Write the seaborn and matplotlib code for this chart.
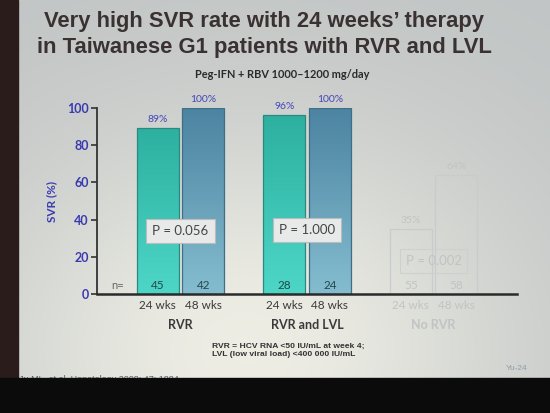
import numpy as np
import pandas as pd
import matplotlib
matplotlib.use('Agg')
import matplotlib.pyplot as plt
import seaborn as sns
from matplotlib.patches import Rectangle

# Datos del gráfico
groups = ['RVR', 'RVR and LVL', 'No RVR']
durations = ['24 wks', '48 wks']
svr_24 = [89, 96, 35]
svr_48 = [100, 100, 64]
n_24 = [45, 28, 55]
n_48 = [42, 24, 58]
p_labels = ['P = 0.056', 'P = 1.000', 'P = 0.002']

sns.set_theme(style='white')
plt.rcParams['font.family'] = ['Lato', 'DejaVu Sans']

df = pd.DataFrame({
    'group': groups * 2,
    'duration': [durations[0]] * 3 + [durations[1]] * 3,
    'svr': svr_24 + svr_48,
})
n_vals = {durations[0]: n_24, durations[1]: n_48}

fig = plt.figure(figsize=(5.5, 4.13), dpi=100)

# fondo de la diapositiva (foto con viñeta)
bg = fig.add_axes([0, 0, 1, 1], zorder=-2)
yy, xx = np.mgrid[0:1:200j, 0:1:260j]
w = np.exp(-((xx - 0.45) / 0.5) ** 2 - ((yy - 0.85) / 0.55) ** 2)
bright = 0.77 + 0.16 * w
img = np.dstack([bright - 0.015 * (1 - w), bright, bright - 0.035 * w])
bg.imshow(np.clip(img, 0, 1), extent=[0, 1, 0, 1], aspect='auto', origin='upper')
bg.add_patch(Rectangle((0, 0), 0.033, 1, color='#2a1c1a'))
bg.set_xlim(0, 1)
bg.set_ylim(0, 1)
bg.axis('off')

# cita (cortada por el borde negro)
fig.text(0.035, 1 - 379 / 413, 'Ju ML, et al. Hepatology 2008; 47: 1884',
         fontsize=6.5, color='#556066', family=['Liberation Sans'], va='center', zorder=1)
fig.patches.append(Rectangle((0, 0), 1, 1 - 378 / 413, transform=fig.transFigure,
                             color='#0b0b0b', zorder=2))
fig.text(0.92, 1 - 369 / 413, 'Yu-24', fontsize=6, color='#8fa0a6',
         family=['Liberation Sans'], va='center', zorder=1)

# títulos
title_kw = dict(ha='center', va='center', fontsize=15.8, fontweight='bold',
                color='#3a3232', family=['Liberation Sans'])
fig.text(0.48, 1 - 21 / 413, "Very high SVR rate with 24 weeks’ therapy", **title_kw)
fig.text(0.48, 1 - 47 / 413, 'in Taiwanese G1 patients with RVR and LVL', **title_kw)
fig.text(0.513, 1 - 75 / 413, 'Peg-IFN + RBV 1000–1200 mg/day', ha='center', va='center',
         fontsize=7.9, fontweight='bold', color='#2a2a2a')

ax = fig.add_axes([97 / 550, 1 - 294 / 413, 420 / 550, 186 / 413], zorder=3)
ax.patch.set_alpha(0)

teal, blue = '#3cc2b2', '#5f99b6'
sns.barplot(data=df, x='group', y='svr', hue='duration', order=groups,
            hue_order=durations, palette=[teal, blue], width=0.72, gap=0.08,
            legend=False, ax=ax)

grad_cols = {0: ('#2db0a0', '#4dd6c6', '#2b8a80'), 1: ('#4c84a2', '#84bccf', '#3f6f88')}
faded = '#c0c4c4'
tick_pos, tick_lab, tick_col = [], [], []
for hi, cont in enumerate(ax.containers):
    top_c, bot_c, edge_c = grad_cols[hi]
    for gi, bar in enumerate(cont):
        x0, wd, h = bar.get_x(), bar.get_width(), bar.get_height()
        xc = x0 + wd / 2
        is_faded = groups[gi] == 'No RVR'
        if is_faded:
            bar.set_facecolor('none')
            bar.set_edgecolor('#c8cccc')
            bar.set_linewidth(0.9)
            txt_c = n_c = pct_c = faded
        else:
            t = np.array(matplotlib.colors.to_rgb(top_c))
            b = np.array(matplotlib.colors.to_rgb(bot_c))
            s = np.linspace(0, 1, 64)[:, None]
            grad = (t * (1 - s) + b * s)[:, None, :]
            im = ax.imshow(grad, extent=[x0, x0 + wd, 0, h], aspect='auto',
                           origin='upper', zorder=1.5)
            im.set_clip_path(bar)
            bar.set_facecolor('none')
            bar.set_edgecolor(edge_c)
            bar.set_linewidth(0.9)
            bar.set_zorder(2)
            txt_c, n_c, pct_c = '#3a3a3a', '#24474c', '#4646b8'
        ax.text(xc, h + 2.2, f'{h:.0f}%', ha='center', va='bottom', fontsize=7.5,
                color=pct_c, clip_on=False)
        ax.text(xc, 4.8, str(n_vals[durations[hi]][gi]), ha='center', va='center',
                fontsize=8.5, color=n_c, zorder=3)
        tick_pos.append(xc)
        tick_lab.append(durations[hi])
        tick_col.append(txt_c)

ax.text(-0.5, 4.8, 'n=', ha='center', va='center', fontsize=8, color='#666666')

# cajas de P
p_pos = [(0.0, 34), (1.0, 34.4), (2.0, 17.7)]
for (px, py), lab, gi in zip(p_pos, p_labels, range(3)):
    fade = groups[gi] == 'No RVR'
    ax.text(px, py, lab, ha='center', va='center', fontsize=9.5,
            color=faded if fade else '#444444', zorder=4,
            bbox=dict(boxstyle='square,pad=0.45',
                      facecolor='none' if fade else '#e8eae9',
                      edgecolor='#cdd0d0' if fade else '#b9bdbd', linewidth=0.8))

# etiquetas de grupo
for gi, g in enumerate(groups):
    ax.text(gi, -16.7, g, ha='center', va='center', fontsize=9, fontweight='bold',
            color=faded if g == 'No RVR' else '#3a3a3a', clip_on=False)

ax.set_xticks(tick_pos)
ax.set_xticklabels(tick_lab, fontsize=8.5)
for lab, c in zip(ax.get_xticklabels(), tick_col):
    lab.set_color(c)
ax.tick_params(axis='x', length=0, pad=4)

ax.set_ylim(0, 100)
ax.set_xlim(-0.66, 2.66)
ax.set_yticks([0, 20, 40, 60, 80, 100])
ax.tick_params(axis='y', length=4, width=1.2, color='#333333', direction='out',
               labelsize=9, labelcolor='#3a3ab0', pad=2, left=True)
for lab in ax.get_yticklabels():
    lab.set_fontweight('bold')
ax.set_xlabel('')
ax.set_ylabel('SVR (%)', fontsize=8.5, fontweight='bold', color='#3a3ab0')
ax.yaxis.set_label_coords(-0.095, 0.5)

for side in ['top', 'right']:
    ax.spines[side].set_visible(False)
ax.spines['left'].set_color('#333333')
ax.spines['left'].set_linewidth(1.3)
ax.spines['bottom'].set_color('#2a2a2a')
ax.spines['bottom'].set_linewidth(1.8)

# pie de nota
fig.text(212 / 550, 1 - 343 / 413,
         'RVR = HCV RNA <50 IU/mL at week 4;\nLVL (low viral load) <400 000 IU/mL',
         ha='left', va='top', fontsize=6.1, fontweight='bold', color='#333333',
         family=['Liberation Sans'], linespacing=1.25)

fig.savefig('out.png', dpi=100)
